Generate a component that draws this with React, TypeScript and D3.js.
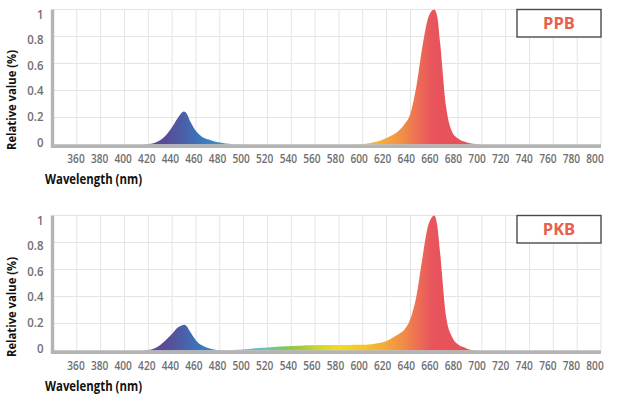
import React from "react";
import * as d3 from "d3";

// Wavelength grid (nm)
const wavelengths = [
  340, 410, 415, 420, 425, 430, 435, 440, 445, 448, 450, 452, 455, 460, 465, 470, 475, 480,
  485, 490, 495, 500, 505, 510, 515, 520, 525, 530, 535, 540, 545, 550, 555, 560,
  565, 570, 575, 580, 585, 590, 595, 600, 605, 610, 615, 620, 625, 630, 635, 640,
  645, 650, 655, 657.5, 660, 662.5, 665, 670, 675, 680, 685, 690, 695, 700, 710, 800,
];

// PPB relative spectrum
const ppbValues = [
  0, 0, 0, 0.004, 0.012, 0.032, 0.07, 0.13, 0.2, 0.236, 0.245, 0.232, 0.175, 0.1, 0.058, 0.038, 0.025, 0.014,
  0.007, 0.003, 0.001, 0, 0, 0, 0, 0, 0, 0, 0, 0, 0, 0, 0, 0,
  0, 0, 0, 0, 0, 0, 0.001, 0.004, 0.009, 0.018, 0.03, 0.048, 0.07, 0.1, 0.15, 0.23,
  0.43, 0.72, 0.94, 0.985, 1.0, 0.95, 0.75, 0.28, 0.095, 0.045, 0.022, 0.01, 0.004, 0, 0, 0,
];

// PKB relative spectrum
const pkbValues = [
  0, 0, 0, 0.003, 0.015, 0.04, 0.08, 0.125, 0.172, 0.186, 0.19, 0.182, 0.14, 0.075, 0.038, 0.018, 0.008, 0.003,
  0.001, 0.002, 0.005, 0.008, 0.012, 0.016, 0.02, 0.023, 0.026, 0.029, 0.031, 0.033, 0.035, 0.037, 0.038, 0.039,
  0.04, 0.04, 0.04, 0.041, 0.041, 0.041, 0.042, 0.043, 0.045, 0.05, 0.058, 0.07, 0.095, 0.12, 0.155, 0.235,
  0.4, 0.68, 0.93, 0.98, 1.0, 0.93, 0.72, 0.25, 0.1, 0.045, 0.024, 0.006, 0.002, 0, 0, 0,
];

const xTicks = [360, 380, 400, 420, 440, 460, 480, 500, 520, 540, 560, 580, 600, 620, 640, 660, 680, 700, 720, 740, 760, 780, 800];
const yTicks = [0, 0.2, 0.4, 0.6, 0.8, 1];
const yTickLabels = ["0", "0.2", "0.4", "0.6", "0.8", "1"];

const spectrumStops: [number, string][] = [
  [410, "#5c4a94"],
  [435, "#594c96"],
  [450, "#4a60a8"],
  [462, "#3c74ba"],
  [475, "#3b86c8"],
  [490, "#4a9ad0"],
  [505, "#6ab4d4"],
  [520, "#72c0b0"],
  [535, "#88c45a"],
  [550, "#a8cc3a"],
  [565, "#d4d82a"],
  [580, "#f2dc22"],
  [600, "#f6c42c"],
  [620, "#f5a63c"],
  [635, "#f08a48"],
  [648, "#ec6a55"],
  [658, "#e8555c"],
  [700, "#e84c58"],
];

const FONT = "'Open Sans', 'Noto Sans', sans-serif";
const W = 619;
const H = 396;

const x = d3.scaleLinear().domain([340, 800]).range([53, 601]);
const xLabel = d3.scaleLinear().domain([360, 800]).range([76, 595]);

type ChartProps = {
  values: number[];
  label: string;
  top: number;
  zero: number;
  titleY: number;
  tickY: number;
  yTitleY: number;
};

function Chart({ values, label, top, zero, titleY, tickY, yTitleY }: ChartProps) {
  const y = d3.scaleLinear().domain([0, 1]).range([zero, top]);
  const yLab = d3.scaleLinear().domain([0, 1]).range([zero + 2.2, top + 9]);
  const data: [number, number][] = wavelengths.map((w, i) => [w, values[i]]);
  const area = d3
    .area<[number, number]>()
    .x((d) => x(d[0]))
    .y0(y(0))
    .y1((d) => y(d[1]))
    .curve(d3.curveMonotoneX);
  const left = x(340);
  const right = x(800);
  return (
    <g>
      {yTicks.filter((t) => t > 0).map((t) => (
        <line key={"h" + t} x1={left} x2={right} y1={y(t)} y2={y(t)} stroke="#e4e4e4" strokeWidth={1} />
      ))}
      {xTicks.map((t) => (
        <line key={"v" + t} x1={x(t)} x2={x(t)} y1={top} y2={zero} stroke="#e4e4e4" strokeWidth={1} />
      ))}
      <path d={area(data) || ""} fill="url(#spectrum)" />
      <line x1={left} x2={right} y1={zero + 1.6} y2={zero + 1.6} stroke="#b4b4b4" strokeWidth={3.6} />
      <line x1={left - 0.5} x2={left - 0.5} y1={top} y2={zero + 3.4} stroke="#b4b4b4" strokeWidth={3.4} />
      {yTicks.map((t, i) => (
        <text
          key={"yl" + t}
          transform={`translate(43.5,${yLab(t)}) scale(0.88,1)`}
          textAnchor="end"
          fontFamily={FONT}
          fontWeight={600}
          fontSize={13}
          fill="#6f6f6f"
        >
          {yTickLabels[i]}
        </text>
      ))}
      {xTicks.map((t) => (
        <text
          key={"xl" + t}
          transform={`translate(${xLabel(t)},${tickY}) scale(0.78,1)`}
          textAnchor="middle"
          fontFamily={FONT}
          fontWeight={600}
          fontSize={13}
          fill="#6f6f6f"
        >
          {t}
        </text>
      ))}
      <text
        x={45}
        y={titleY}
        textLength={97}
        lengthAdjust="spacingAndGlyphs"
        fontFamily={FONT}
        fontWeight={700}
        fontSize={13.5}
        fill="#111"
      >
        Wavelength (nm)
      </text>
      <text
        transform={`translate(15.5,${yTitleY}) rotate(-90)`}
        textAnchor="middle"
        textLength={100}
        lengthAdjust="spacingAndGlyphs"
        fontFamily={FONT}
        fontWeight={700}
        fontSize={12.5}
        fill="#111"
      >
        Relative value (%)
      </text>
      <rect x={517} y={top} width={84} height={27.5} fill="#fff" stroke="#4a4a4a" strokeWidth={1.4} />
      <text
        x={559}
        y={top + 19.5}
        textAnchor="middle"
        fontFamily={FONT}
        fontWeight={700}
        fontSize={16.5}
        fill="#e8604c"
      >
        {label}
      </text>
    </g>
  );
}

export default function App() {
  const g0 = spectrumStops[0][0];
  const g1 = spectrumStops[spectrumStops.length - 1][0];
  return (
    <svg
      width={W}
      height={H}
      style={{ position: "absolute", left: 0, top: 0, background: "#fff" }}
    >
      <defs>
        <linearGradient id="spectrum" gradientUnits="userSpaceOnUse" x1={x(g0)} x2={x(g1)} y1={0} y2={0}>
          {spectrumStops.map(([w, c]) => (
            <stop key={w} offset={(w - g0) / (g1 - g0)} stopColor={c} />
          ))}
        </linearGradient>
      </defs>
      <rect x={0} y={0} width={W} height={H} fill="#fff" />
      <Chart values={ppbValues} label="PPB" top={9.5} zero={144.5} tickY={163} titleY={184} yTitleY={100} />
      <Chart values={pkbValues} label="PKB" top={215.5} zero={350.5} tickY={370} titleY={390.5} yTitleY={307} />
    </svg>
  );
}
